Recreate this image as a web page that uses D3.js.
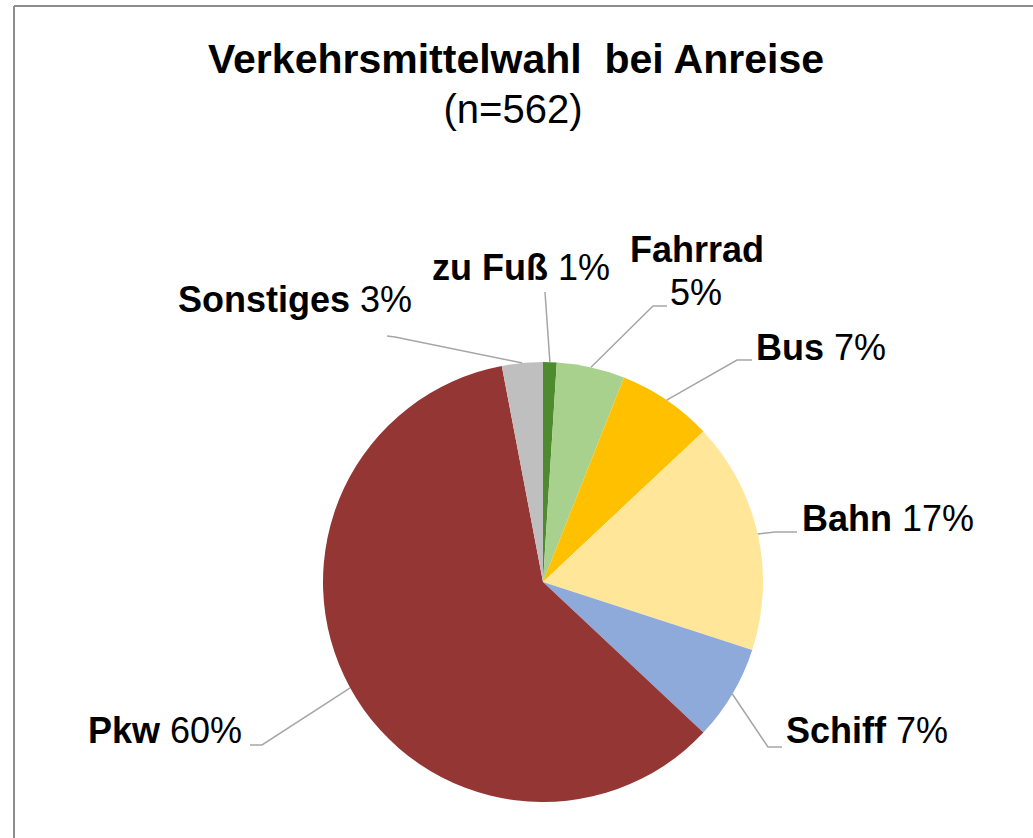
<!DOCTYPE html>
<html>
<head>
<meta charset="utf-8">
<script src="https://cdn.jsdelivr.net/npm/d3@7"></script>
<style>
  html, body { margin: 0; padding: 0; background: #fff; }
  svg { display: block; font-family: "Liberation Sans", Arial, sans-serif; }
</style>
</head>
<body>
<svg id="chart" width="1033" height="838"></svg>
<script>
// Modal split for arrival trips (share in percent, clockwise from 12 o'clock)
const categories = ["zu Fuß", "Fahrrad", "Bus", "Bahn", "Schiff", "Pkw", "Sonstiges"];
const shares     = [1, 5, 7, 17, 7, 60, 3];
const sliceColors = ["#4e8a2e", "#a9d18e", "#ffc000", "#ffe699", "#8eaadb", "#943634", "#bfbfbf"];
const chartTitle = "Verkehrsmittelwahl  bei Anreise";
const chartSubtitle = "(n=562)";

// Label layout: elbow of the leader line, end of the leader line, text anchor point
const labelLayout = {
  "zu Fuß":    { elbow: [545, 292], end: [545, 292], text: [432, 280], anchor: "start", twoLine: false },
  "Fahrrad":   { elbow: [653, 306], end: [667, 306], text: [630, 262], anchor: "start", twoLine: true, second: [670, 305] },
  "Bus":       { elbow: [737, 360], end: [752, 360], text: [756, 360], anchor: "start", twoLine: false },
  "Bahn":      { elbow: [775, 532], end: [797, 532], text: [802, 531], anchor: "start", twoLine: false },
  "Schiff":    { elbow: [768, 747], end: [782, 747], text: [786, 743], anchor: "start", twoLine: false },
  "Pkw":       { elbow: [262, 745], end: [250, 745], text: [242, 743], anchor: "end", twoLine: false },
  "Sonstiges": { elbow: [395, 337], end: [387, 336], text: [412, 312], anchor: "end", twoLine: false }
};

const svg = d3.select("#chart");
const cx = 543, cy = 582, radius = 220;

// Frame lines (top and left)
svg.append("line").attr("x1", 14).attr("y1", 6).attr("x2", 1033).attr("y2", 6)
  .attr("stroke", "#8c8c8c").attr("stroke-width", 2);
svg.append("line").attr("x1", 14).attr("y1", 6).attr("x2", 14).attr("y2", 838)
  .attr("stroke", "#8c8c8c").attr("stroke-width", 2);

// Title
svg.append("text").attr("x", 516).attr("y", 73).attr("text-anchor", "middle")
  .attr("font-size", 41).attr("font-weight", "bold").attr("fill", "#000")
  .style("white-space", "pre").text(chartTitle);
svg.append("text").attr("x", 513).attr("y", 123).attr("text-anchor", "middle")
  .attr("font-size", 40).attr("fill", "#000").text(chartSubtitle);

const data = categories.map((c, i) => ({ name: c, value: shares[i], color: sliceColors[i] }));

const pie = d3.pie().sort(null).value(d => d.value);
const arcs = pie(data);
const arc = d3.arc().innerRadius(0).outerRadius(radius);

const g = svg.append("g").attr("transform", `translate(${cx},${cy})`);
g.selectAll("path.slice").data(arcs).join("path")
  .attr("class", "slice")
  .attr("d", arc)
  .attr("fill", d => d.data.color);

// Leader lines from the slice rim at mid-angle
const leaders = svg.append("g");
arcs.forEach(a => {
  const mid = (a.startAngle + a.endAngle) / 2;
  const sx = cx + radius * Math.sin(mid);
  const sy = cy - radius * Math.cos(mid);
  const L = labelLayout[a.data.name];
  leaders.append("polyline")
    .attr("points", [[sx, sy], L.elbow, L.end].map(p => p.join(",")).join(" "))
    .attr("fill", "none").attr("stroke", "#a6a6a6").attr("stroke-width", 1.5);
});

// Labels: bold category name, regular percentage
const labels = svg.append("g").attr("font-size", 36).attr("fill", "#000");
arcs.forEach(a => {
  const L = labelLayout[a.data.name];
  const pct = d3.format(".0f")(a.data.value) + "%";
  if (L.twoLine) {
    labels.append("text").attr("x", L.text[0]).attr("y", L.text[1])
      .attr("font-weight", "bold").text(a.data.name);
    labels.append("text").attr("x", L.second[0]).attr("y", L.second[1]).text(pct);
  } else {
    const t = labels.append("text").attr("x", L.text[0]).attr("y", L.text[1])
      .attr("text-anchor", L.anchor);
    t.append("tspan").attr("font-weight", "bold").text(a.data.name);
    t.append("tspan").text(" " + pct);
  }
});
</script>
</body>
</html>
